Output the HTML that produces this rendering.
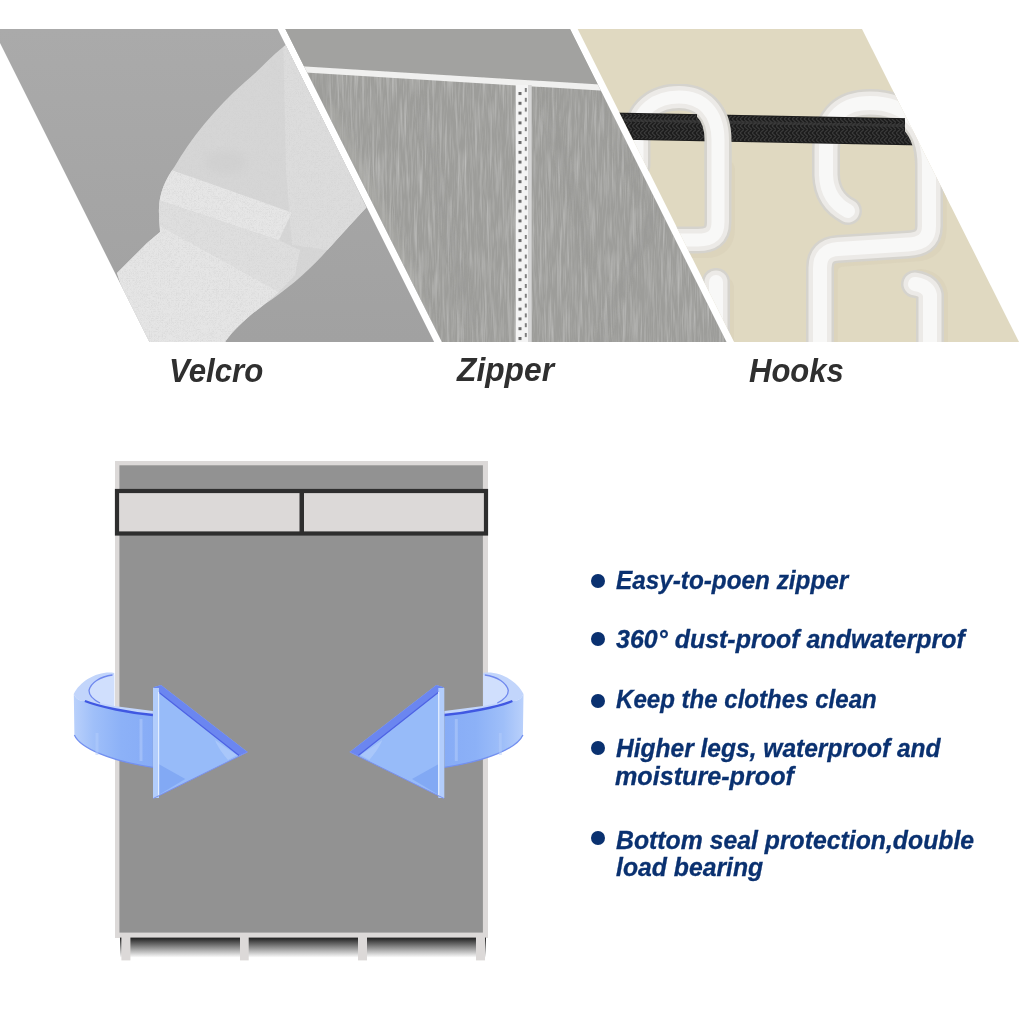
<!DOCTYPE html>
<html><head><meta charset="utf-8">
<style>
html,body{margin:0;padding:0;background:#fff;}
body{width:1024px;height:1024px;position:relative;overflow:hidden;font-family:"Liberation Sans",sans-serif;}
svg{position:absolute;left:0;top:0;}
.lbl{position:absolute;font-weight:bold;font-style:italic;color:#2f2f2f;font-size:33px;white-space:nowrap;line-height:33px;transform-origin:0 0;}
.bul{position:absolute;font-weight:bold;font-style:italic;color:#0a3170;font-size:26px;white-space:nowrap;line-height:26px;transform-origin:0 0;-webkit-text-stroke:0.3px #0a3170;}
.dot{position:absolute;width:13.8px;height:13.8px;border-radius:50%;background:#0a3170;}
</style></head>
<body>
<svg width="1024" height="1024" viewBox="0 0 1024 1024">
<defs>
  <clipPath id="strapclip"><path d="M117,273 L147,243 L160,232 C160,228 159,222 159,214 C158,195 165,180 175,166 C190,140 215,108 245,82 C262,68 272,55 287,44 L366.4,207.6 C350,225 335,242 322,256 C305,274 285,291 265,304 C250,315 235,328 225.8,341 L224,346 L140,346 Z"/></clipPath>
  <filter id="mesh" x="0" y="0" width="100%" height="100%">
    <feTurbulence type="turbulence" baseFrequency="0.55" numOctaves="1" seed="2" result="n"/>
    <feColorMatrix in="n" type="matrix" values="0 0 0 0 0.62  0 0 0 0 0.62  0 0 0 0 0.62  0 0 0 0.9 0" result="d"/>
    <feComposite in="d" in2="SourceGraphic" operator="in"/>
  </filter>
  <pattern id="braid" x="0" y="0" width="8" height="7" patternUnits="userSpaceOnUse">
    <path d="M0,0 L4,3.5 L0,7 M4,0 L8,3.5 L4,7" stroke="#3a3a3a" stroke-width="1.2" fill="none"/>
  </pattern>
  <filter id="streaks" x="280" y="29" width="460" height="320" filterUnits="userSpaceOnUse">
    <feTurbulence type="fractalNoise" baseFrequency="0.4 0.02" numOctaves="3" seed="7" result="n"/>
    <feColorMatrix in="n" type="matrix" values="0 0 0 0 0.54  0 0 0 0 0.54  0 0 0 0 0.53  1.8 0 0 0 -0.8" result="d"/>
    <feColorMatrix in="n" type="matrix" values="0 0 0 0 0.68  0 0 0 0 0.68  0 0 0 0 0.67  -1.2 0 0 0 0.45" result="l"/>
    <feMerge><feMergeNode in="d"/><feMergeNode in="l"/></feMerge>
  </filter>
  <filter id="blur3" x="-20%" y="-20%" width="140%" height="140%"><feGaussianBlur stdDeviation="3"/></filter>
  <linearGradient id="p1bg" x1="0" y1="29" x2="0" y2="341" gradientUnits="userSpaceOnUse">
    <stop offset="0" stop-color="#aaaaaa"/><stop offset="1" stop-color="#a1a1a1"/>
  </linearGradient>
  <linearGradient id="bandg" x1="74" y1="0" x2="153" y2="0" gradientUnits="userSpaceOnUse">
    <stop offset="0" stop-color="#b9d0fb"/>
    <stop offset="0.25" stop-color="#9fbff9"/>
    <stop offset="0.6" stop-color="#8cb1f7"/>
    <stop offset="1" stop-color="#87acf6"/>
  </linearGradient>
  <pattern id="zipdots" x="0" y="92" width="10" height="9.8" patternUnits="userSpaceOnUse"><rect x="0" y="0" width="10" height="3" fill="#6a6a6a"/></pattern>
  <pattern id="zipdash" x="0" y="88" width="10" height="9.8" patternUnits="userSpaceOnUse"><rect x="0" y="0" width="10" height="4" fill="#808080"/></pattern>
  <pattern id="fabric" x="0" y="0" width="23" height="341" patternUnits="userSpaceOnUse">
    <rect x="2" y="0" width="2" height="341" fill="#9b9b99" opacity="0.45"/>
    <rect x="7" y="0" width="3" height="341" fill="#acacaa" opacity="0.45"/>
    <rect x="13" y="0" width="1.5" height="341" fill="#989896" opacity="0.35"/>
    <rect x="18" y="0" width="2.5" height="341" fill="#aeaeac" opacity="0.35"/>
  </pattern>
  <clipPath id="frontclip"><rect x="697" y="60" width="60" height="120"/><rect x="905" y="60" width="60" height="120"/></clipPath>
  <filter id="soft" x="-5%" y="-5%" width="110%" height="110%"><feGaussianBlur stdDeviation="0.6"/></filter>
  <clipPath id="p1"><polygon points="-7,29 277.6,29 434.1,342 149.5,342"/></clipPath>
  <clipPath id="p2"><polygon points="285.4,29 570,29 726.5,342 441.9,342"/></clipPath>
  <clipPath id="p3"><polygon points="577.7,29 862,29 1019,342 734.2,342"/></clipPath>
  <linearGradient id="shadow" x1="0" y1="0" x2="0" y2="1">
    <stop offset="0" stop-color="#1e1e1e"/>
    <stop offset="0.55" stop-color="#9a9a9a"/>
    <stop offset="1" stop-color="#ffffff"/>
  </linearGradient>
</defs>
<!-- PANEL 1 -->
<g clip-path="url(#p1)">
  <rect x="-10" y="29" width="460" height="320" fill="url(#p1bg)"/>
  <path d="M117,273 L147,243 L160,232 C160,228 159,222 159,214 C158,195 165,180 175,166 C190,140 215,108 245,82 C262,68 272,55 287,44 L366.4,207.6 C350,225 335,242 322,256 C305,274 285,291 265,304 C250,315 235,328 225.8,341 L224,346 L140,346 Z" fill="#d6d6d6"/>
  <g clip-path="url(#strapclip)">
    <polygon points="283,30 400,30 400,260 292,245 286,170" fill="#dddddd"/>
    <ellipse cx="226" cy="162" rx="20" ry="11" fill="#cecece" opacity="0.6" filter="url(#blur3)"/>
    <polygon points="150,163 175.8,171.6 291.8,212.4 278.9,240.3 162.9,201.6 150,197" fill="#e7e7e7"/>
    <polygon points="150,197 162.9,201.6 278.9,240.3 300,250 295,275 278.9,291.9 162.9,227.4 150,222" fill="#dfdfdf"/>
    <polygon points="100,280 150,222 162.9,227.4 278.9,291.9 265,304 225.8,341 224,346 100,346" fill="#e6e6e6"/>
    <rect x="100" y="29" width="300" height="320" fill="#000" filter="url(#mesh)"/>
  </g>
</g>
<!-- PANEL 2 -->
<g clip-path="url(#p2)">
  <rect x="280" y="29" width="460" height="320" fill="#9d9d9a"/>
  <rect x="280" y="29" width="460" height="320" fill="#000" filter="url(#streaks)"/>
  <g filter="url(#blur3)" fill="none" stroke-linecap="round">
    <path d="M545,95 C560,150 575,200 590,260" stroke="#959592" stroke-width="5" opacity="0.6"/>
    <path d="M600,90 C610,130 620,150 640,200" stroke="#999996" stroke-width="4" opacity="0.5"/>
    <path d="M660,200 C640,250 615,290 600,345" stroke="#969693" stroke-width="5" opacity="0.5"/>
    <path d="M330,110 C360,170 400,240 430,330" stroke="#afafac" stroke-width="10" opacity="0.5"/>
    <path d="M420,100 C430,160 450,230 470,320" stroke="#9a9a97" stroke-width="6" opacity="0.5"/>
    <path d="M620,120 C660,160 700,200 720,260" stroke="#adadaa" stroke-width="12" opacity="0.45"/>
  </g>
  <polygon points="280,29 740,29 740,93 280,65" fill="#a2a2a0"/>
  <polygon points="280,65 740,93 740,99 280,71" fill="#f0f0ef"/>
  <rect x="515.7" y="85" width="12.5" height="260" fill="#f4f4f4"/>
  <rect x="528" y="85" width="3.7" height="260" fill="#d6d6d6"/>
  <rect x="518.5" y="88" width="3" height="260" fill="url(#zipdots)"/>
  <rect x="524.8" y="88" width="2" height="260" fill="url(#zipdash)"/>
</g>
<!-- PANEL 3 -->
<g clip-path="url(#p3)">
  <rect x="570" y="29" width="460" height="320" fill="#e0d9c1"/>
  <g fill="none" stroke-linecap="round" stroke-linejoin="round" filter="url(#soft)">
  <path d="M722,345 L722,288" stroke="#d9d1b9" stroke-width="24" opacity="0.6"/>
  <path d="M724,170 L724,228 Q724,247 706,247 L656,247" stroke="#d9d1b9" stroke-width="22" opacity="0.6"/>
  <path d="M935,170 L935,230 Q935,250 914,250 L844,255 Q826,256 826,274 L826,345" stroke="#d9d1b9" stroke-width="23" opacity="0.6"/>
  <path d="M936,345 L936,295 Q934,283 921,281" stroke="#d9d1b9" stroke-width="24" opacity="0.6"/>
  <path d="M716,345 L716,282" stroke="#d5d3cd" stroke-width="28"/>
  <path d="M716,345 L716,282" stroke="#eceae7" stroke-width="23"/>
  <path d="M716,345 L716,282" stroke="#f8f8f7" stroke-width="14"/>
  <path d="M930,345 L930,295 Q928,286 915,284" stroke="#d5d3cd" stroke-width="28"/>
  <path d="M930,345 L930,295 Q928,286 915,284" stroke="#eceae7" stroke-width="23"/>
  <path d="M930,345 L930,295 Q928,286 915,284" stroke="#f8f8f7" stroke-width="14"/>
  <path d="M637,165 L637,135 C637,110 656,97 679,97 C702,97 718,112 718,140 L718,222 C718,236 710,240 698,240 L650,240" stroke="#d5d3cd" stroke-width="27"/>
  <path d="M637,165 L637,135 C637,110 656,97 679,97 C702,97 718,112 718,140 L718,222 C718,236 710,240 698,240 L650,240" stroke="#eceae7" stroke-width="22"/>
  <path d="M637,165 L637,135 C637,110 656,97 679,97 C702,97 718,112 718,140 L718,222 C718,236 710,240 698,240 L650,240" stroke="#f8f8f7" stroke-width="13"/>
  <path d="M848,211 Q827,200 826,175 L826,150 C826,115 845,103 870,103 C905,103 929,125 929,165 L929,226 C929,240 920,244 908,244.5 L838,249 Q820,250 820,268 L820,345" stroke="#d5d3cd" stroke-width="28"/>
  <path d="M848,211 Q827,200 826,175 L826,150 C826,115 845,103 870,103 C905,103 929,125 929,165 L929,226 C929,240 920,244 908,244.5 L838,249 Q820,250 820,268 L820,345" stroke="#eceae7" stroke-width="23"/>
  <path d="M848,211 Q827,200 826,175 L826,150 C826,115 845,103 870,103 C905,103 929,125 929,165 L929,226 C929,240 920,244 908,244.5 L838,249 Q820,250 820,268 L820,345" stroke="#f8f8f7" stroke-width="14"/>
  <path d="M560,125 L922,132" stroke="#1b1b1b" stroke-width="27" stroke-linecap="butt"/>
  <path d="M560,125 L922,132" stroke="url(#braid)" stroke-width="25" stroke-linecap="butt"/>
  <path d="M560,119 L922,126" stroke="#3c3c3c" stroke-width="3" stroke-linecap="butt" opacity="0.6"/>
  <g clip-path="url(#frontclip)">
  <path d="M637,135 C637,110 656,97 679,97 C702,97 718,112 718,140 L718,222" stroke="#d5d3cd" stroke-width="27"/>
  <path d="M637,135 C637,110 656,97 679,97 C702,97 718,112 718,140 L718,222" stroke="#eceae7" stroke-width="22"/>
  <path d="M637,135 C637,110 656,97 679,97 C702,97 718,112 718,140 L718,222" stroke="#f8f8f7" stroke-width="13"/>
  <path d="M826,150 C826,115 845,103 870,103 C905,103 929,125 929,165 L929,222" stroke="#d5d3cd" stroke-width="28"/>
  <path d="M826,150 C826,115 845,103 870,103 C905,103 929,125 929,165 L929,222" stroke="#eceae7" stroke-width="23"/>
  <path d="M826,150 C826,115 845,103 870,103 C905,103 929,125 929,165 L929,222" stroke="#f8f8f7" stroke-width="14"/>
  </g>
  </g>
</g>

<!-- WARDROBE -->
<rect x="115" y="461" width="373" height="477" fill="#dcd9d8"/>
<rect x="119.4" y="465.3" width="363.5" height="467.3" fill="#929292"/>
<rect x="120" y="937.6" width="366" height="20" fill="url(#shadow)"/>
<rect x="121.4" y="937" width="9" height="23.4" fill="#dcd9d8"/>
<rect x="240" y="937" width="8.7" height="23.4" fill="#dcd9d8"/>
<rect x="358" y="937" width="9" height="23.4" fill="#dcd9d8"/>
<rect x="476" y="937" width="9" height="23.4" fill="#dcd9d8"/>
<rect x="117" y="491" width="369" height="42.5" fill="#dcd9d8" stroke="#2e2e2e" stroke-width="4.2"/>
<rect x="299.5" y="489" width="4.5" height="46" fill="#2e2e2e"/>

<!-- ARROWS -->
<g id="arrowL">
  <path d="M114.2,672.9 C98,670.5 80,681 73.8,694 C76,699 80,701.5 84.9,701 C100,707 130,713 152.9,715 L152.9,711 L114.2,706 Z" fill="#c2d5fb"/>
  <path d="M112.5,675 C100,676.5 90.5,683 89,690.5 C89,696 94,700 100,703 L114.2,706 L114.2,675 Z" fill="#d0dffd"/>
  <path d="M112.5,675 C100,676.5 90.5,683 89,690.5 C89,696 94,700 100,703" stroke="#6f88ee" stroke-width="1.3" fill="none"/>
  <path d="M73.8,694 C76,699 80,701.5 84.9,701 C100,707 130,713 152.9,715 L152.9,767.3 C110,761 80,748 74.4,735 Z" fill="url(#bandg)"/>
  <path d="M84.9,701 C100,707 130,713 152.9,715" stroke="#4058e2" stroke-width="2.4" fill="none"/>
  <path d="M74.4,735 C80,748 110,761 152.9,767.3" stroke="#7390f0" stroke-width="1.3" fill="none"/>
  <rect x="139.5" y="719" width="3" height="42" fill="#a9c5fa" opacity="0.7"/>
  <rect x="95.5" y="733" width="3" height="22" fill="#b4cdfb" opacity="0.5"/>
  <polygon points="153.5,687.3 161,684.9 247.6,752 153.4,798.4" fill="#97bbf9"/>
  <polygon points="159,764.2 185.3,779 159,794.8" fill="#82a9f4"/>
  <path d="M215,740 C222,745 232,752 237,755 L228,760 C224,755 218,748 215,740 Z" fill="#b0ccfb" opacity="0.7"/>
  <polygon points="153.5,687.3 161,684.9 247.6,752 239,755.7 157.2,691" fill="#6b86f0"/>
  <path d="M157.2,691 L239,755.5" stroke="#4d62e4" stroke-width="1.2"/>
  <rect x="153" y="688" width="6" height="110" fill="#b2cdfc"/>
  <rect x="158" y="692" width="1.2" height="104" fill="#e4eefe"/>
  <path d="M153.4,798.4 L247.6,752" stroke="#7a90ee" stroke-width="1"/>
</g>
<use href="#arrowL" transform="translate(597.3,0) scale(-1,1)"/>
</svg>

<div class="lbl" style="left:168.86px;top:353.97px;transform:scaleX(0.9458);">Velcro</div>
<div class="lbl" style="left:457.06px;top:353.37px;transform:scaleX(0.9621);">Zipper</div>
<div class="lbl" style="left:749.06px;top:353.97px;transform:scaleX(0.9404);">Hooks</div>
<div class="bul" style="left:615.67px;top:566.50px;transform:scaleX(0.9345);">Easy-to-poen zipper</div>
<div class="bul" style="left:615.70px;top:626.20px;transform:scaleX(0.9611);">360° dust-proof andwaterprof</div>
<div class="bul" style="left:615.67px;top:685.50px;transform:scaleX(0.9254);">Keep the clothes clean</div>
<div class="bul" style="left:615.66px;top:735.30px;transform:scaleX(0.9440);">Higher legs, waterproof and</div>
<div class="bul" style="left:615.28px;top:763.10px;transform:scaleX(0.9675);">moisture-proof</div>
<div class="bul" style="left:615.65px;top:826.50px;transform:scaleX(0.9535);">Bottom seal protection,double</div>
<div class="bul" style="left:615.65px;top:854.25px;transform:scaleX(0.9523);">load bearing</div>
<div class="dot" style="left:590.85px;top:573.90px;"></div>
<div class="dot" style="left:590.85px;top:632.00px;"></div>
<div class="dot" style="left:590.85px;top:693.90px;"></div>
<div class="dot" style="left:590.85px;top:741.40px;"></div>
<div class="dot" style="left:590.85px;top:830.90px;"></div>
</body></html>
